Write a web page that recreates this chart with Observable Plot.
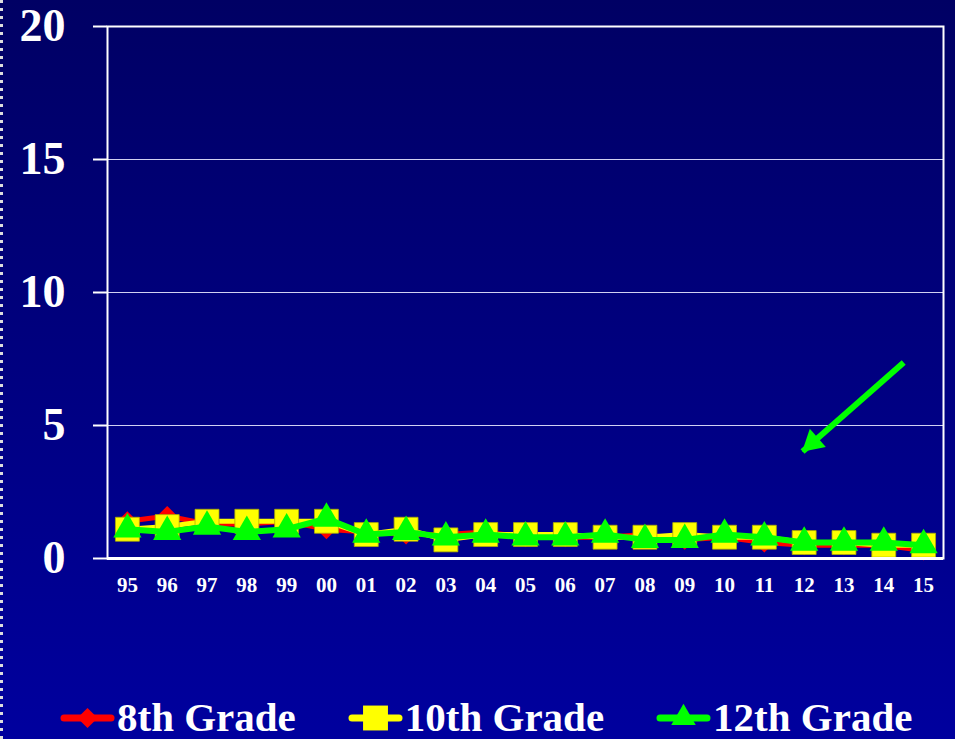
<!DOCTYPE html>
<html>
<head>
<meta charset="utf-8">
<script src="https://cdn.jsdelivr.net/npm/d3@7"></script>
<script src="https://cdn.jsdelivr.net/npm/@observablehq/plot@0.6"></script>
<style>
  html, body { margin: 0; padding: 0; }
  body {
    width: 955px; height: 739px; overflow: hidden; position: relative;
    background: linear-gradient(to bottom, #000064 0%, #000080 50%, #00009e 100%);
    font-family: "Liberation Serif", "Times New Roman", serif;
  }
  #edge {
    position: absolute; left: 0; top: 0; width: 3px; height: 739px;
    background: repeating-linear-gradient(to bottom, #dddddd 0 3px, transparent 3px 8px);
  }
  #chart { position: absolute; left: 0; top: 0; }
  #legend {
    position: absolute; left: 60px; top: 697px; display: flex; align-items: center; gap: 52px;
    color: white; font-weight: bold; font-size: 41px; line-height: 41px; white-space: nowrap;
  }
  .item { display: flex; align-items: center; gap: 2px; }
</style>
</head>
<body>
<div id="edge"></div>
<div id="chart"></div>
<div id="legend"></div>
<script>
// ---- data (annual prevalence, %) ----
const years = [1995,1996,1997,1998,1999,2000,2001,2002,2003,2004,2005,2006,2007,2008,2009,2010,2011,2012,2013,2014,2015];
const tickLabels = ["95","96","97","98","99","00","01","02","03","04","05","06","07","08","09","10","11","12","13","14","15"];
const grade8  = [1.4,1.6,1.3,1.3,1.4,1.1,1.0,0.9,0.9,1.0,0.8,0.8,0.8,0.9,0.7,0.8,0.6,0.5,0.5,0.5,0.3];
const grade10 = [1.1,1.2,1.4,1.4,1.4,1.4,0.9,1.1,0.7,0.9,0.9,0.9,0.8,0.8,0.9,0.8,0.8,0.6,0.6,0.5,0.5];
const grade12 = [1.1,1.0,1.2,1.0,1.1,1.5,0.9,1.0,0.8,0.9,0.8,0.8,0.9,0.7,0.7,0.9,0.8,0.6,0.6,0.6,0.5];
const seriesNames = ["8th Grade","10th Grade","12th Grade"];
const seriesValues = [grade8, grade10, grade12];
const seriesColors = ["#ff0000","#ffff00","#00ff00"];
const seriesSymbols = ["diamond2","square","triangle"];
const yTicks = [0,5,10,15,20];
const gridTicks = [5,10,15];
// annotation arrow (data coordinates)
const arrowFrom = {x: 2014.5, y: 7.37};
const arrowTo = {x: 2011.96, y: 4.02};

const rows = seriesNames.flatMap((name, s) =>
  years.map((yr, i) => ({series: name, s, year: yr, value: seriesValues[s][i]})));

const symbolR = [9, 13.5, 10.5];

const marks = [
  Plot.gridY(gridTicks, {stroke: "#e8e8ff", strokeOpacity: 0.9, strokeWidth: 1})
];
seriesNames.forEach((name, s) => {
  const d = rows.filter(r => r.s === s);
  marks.push(Plot.line(d, {x: "year", y: "value", stroke: seriesColors[s], strokeWidth: s === 2 ? 6 : 5, strokeLinejoin: "round"}));
  marks.push(Plot.dot(d, {x: "year", y: "value", symbol: seriesSymbols[s], r: symbolR[s], fill: seriesColors[s],
    stroke: s === 1 ? "#b0b000" : "none", strokeWidth: 0.8}));
});
marks.push(
  Plot.frame({stroke: "white", strokeWidth: 2}),
  Plot.ruleY([0], {stroke: "white", strokeWidth: 3}),
  Plot.link([{x1: arrowFrom.x, y1: arrowFrom.y, x2: arrowTo.x, y2: arrowTo.y}],
    {x1: "x1", y1: "y1", x2: "x2", y2: "y2", stroke: "#00ff00", strokeWidth: 6, strokeLinecap: "butt"}),
  Plot.dot([arrowTo], {x: "x", y: "y", symbol: "triangle", r: 9, fill: "#00ff00", rotate: -131.4, dx: 10, dy: -9}),
  Plot.axisY({ticks: yTicks, tickSize: 14, tickPadding: 28, fontSize: 46, fontWeight: "bold", strokeWidth: 2}),
  Plot.axisX({ticks: years, tickFormat: d => tickLabels[years.indexOf(d)], tickSize: 0, tickPadding: 19,
    fontSize: 21, fontWeight: "bold"})
);

const chart = Plot.plot({
  width: 955, height: 610,
  marginLeft: 107, marginRight: 12, marginTop: 26, marginBottom: 52,
  x: {domain: [1994.5, 2015.5]},
  y: {domain: [0, 20]},
  style: {background: "transparent", color: "white", fontFamily: "'Liberation Serif', 'Times New Roman', serif", overflow: "visible"},
  marks
});
document.getElementById("chart").appendChild(chart);

// ---- legend ----
const legend = d3.select("#legend");
const symbolMap = {diamond2: d3.symbolDiamond2, square: d3.symbolSquare, triangle: d3.symbolTriangle};
const legendSizes = [260, 620, 260];
seriesNames.forEach((name, s) => {
  const item = legend.append("div").attr("class", "item");
  const svg = item.append("svg").attr("width", 55).attr("height", 32);
  svg.append("line").attr("x1", 4).attr("x2", 51).attr("y1", 16).attr("y2", 16)
    .attr("stroke", seriesColors[s]).attr("stroke-width", 7).attr("stroke-linecap", "round");
  svg.append("path").attr("transform", "translate(27.5,16)")
    .attr("d", d3.symbol(symbolMap[seriesSymbols[s]], legendSizes[s])())
    .attr("fill", seriesColors[s]);
  item.append("span").text(name);
});
</script>
</body>
</html>
